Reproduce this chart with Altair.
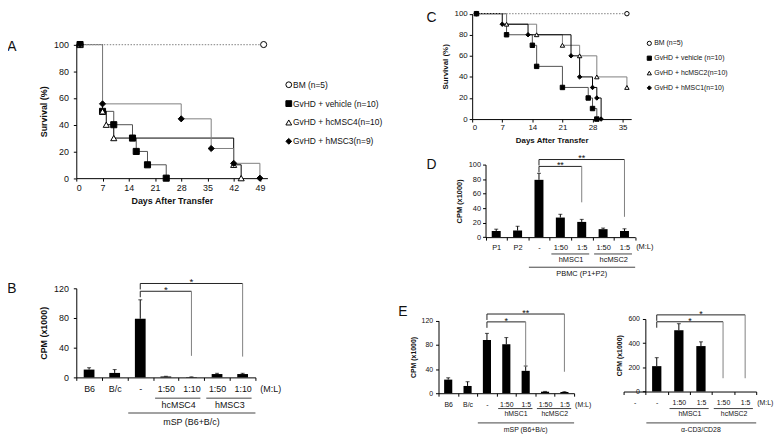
import json
import altair as alt
import pandas as pd

FONT = "Liberation Sans"
W, H = 776, 428


def X(p):
    return p - 8


def Y(p):
    return p - 8


# ---------------- data ----------------
# Panel A: survival
A_names = ["BM (n=5)", "GvHD + vehicle (n=10)", "GvHD + hcMSC4(n=10)", "GvHD + hMSC3(n=9)"]
A_days = [[1, 50], [1, 7, 10, 15, 16, 19, 24], [1, 7, 8, 10, 42, 44], [1, 7, 28, 36, 42, 49]]
A_surv = [[100, 100], [100, 50, 40, 30, 20, 10, 0], [100, 50, 40, 30, 10, 0],
          [100, 55.6, 44.4, 22.2, 11.1, 0]]
A_ticks = [0, 7, 14, 21, 28, 35, 42, 49]

# Panel C: survival
C_names = ["BM (n=5)", "GvHD + vehicle (n=10)", "GvHD + hcMSC2(n=10)", "GvHD + hMSC1(n=10)"]
C_days = [[1, 36], [1, 8, 14, 15, 21, 27, 28, 29], [1, 8, 15, 21, 25, 29, 36],
          [1, 7, 13, 23, 25, 28, 29, 30]]
C_surv = [[100, 100], [100, 80, 70, 50, 30, 20, 10, 0], [100, 90, 80, 70, 60, 40, 30],
          [100, 90, 80, 60, 40, 30, 20, 0]]
C_ticks = [0, 7, 14, 21, 28, 35]
SURV_TICKS = [0, 20, 40, 60, 80, 100]

# Panel B
B_labels = ["B6", "B/c", "-", "1:50", "1:10", "1:50", "1:10"]
B_cpm = [10.5, 6, 79, 1.2, 0.5, 4.5, 4.5]
B_err = [2.5, 4.5, 25.5, 0.3, 0.2, 1, 1]
B_groups = ["hcMSC4", "hMSC3"]
B_group_start = [3, 5]
B_group_end = [4, 6]
B_all = "mSP (B6+B/c)"
B_all_span = [2, 6]
B_br_left = [2, 2]
B_br_right = [4, 6]
B_br_top = [116, 126.5]
B_br_bottom = [29, 28]
B_br_star = ["*", "*"]
B_yticks = [0, 40, 80, 120]

# Panel D
D_labels = ["P1", "P2", "-", "1:50", "1:5", "1:50", "1:5"]
D_cpm = [8.5, 9, 79, 27, 21, 11, 8.5]
D_err = [2.5, 6, 9, 4.5, 3.5, 1.5, 3]
D_groups = ["hMSC1", "hcMSC2"]
D_group_start = [3, 5]
D_group_end = [4, 6]
D_all = "PBMC (P1+P2)"
D_all_span = [2, 6]
D_br_left = [2, 2]
D_br_right = [4, 6]
D_br_top = [97.5, 107]
D_br_bottom = [48, 28]
D_br_star = ["**", "**"]
D_yticks = [0, 20, 40, 60, 80, 100]

# Panel E (left)
E1_labels = ["B6", "B/c", "-", "1:50", "1:5", "1:50", "1:5"]
E1_cpm = [22.5, 12, 88, 81, 37, 2.5, 2]
E1_err = [3, 7, 11, 11, 8, 0.5, 0.5]
E1_groups = ["hMSC1", "hcMSC2"]
E1_group_start = [3, 5]
E1_group_end = [4, 6]
E1_all = "mSP (B6+B/c)"
E1_all_span = [2, 6]
E1_br_left = [2, 2]
E1_br_right = [4, 6]
E1_br_top = [118, 131]
E1_br_bottom = [43.5, 35.5]
E1_br_star = ["*", "**"]
E1_yticks = [0, 40, 80, 120]

# Panel E (right)
E2_labels = ["-", "-", "1:50", "1:5", "1:50", "1:5"]
E2_cpm = [0, 210, 507, 376, 0, 0]
E2_err = [0, 70, 54, 35, 0, 0]
E2_groups = ["hMSC1", "hcMSC2"]
E2_group_start = [2, 4]
E2_group_end = [3, 5]
E2_all = "\u03b1-CD3/CD28"
E2_all_span = [1, 5]
E2_br_left = [1, 1]
E2_br_right = [4, 5]
E2_br_top = [577, 634]
E2_br_bottom = [110, 110]
E2_br_star = ["*", "*"]
E2_yticks = [0, 200, 400, 600]

# ---------------- styles ----------------
SHAPES = ["circle", "square", "triangle-up", "diamond"]
FILLS = ["white", "black", "white", "black"]
TXT = "#111111"


def axis_common(fs, title_fs):
    return dict(grid=False, domainColor="black", tickColor="black", labelColor=TXT,
                titleColor=TXT, labelFont=FONT, titleFont=FONT, labelFontSize=fs,
                titleFontSize=title_fs, titleFontWeight="bold", tickSize=3,
                domainWidth=1, tickWidth=1)


def survival_panel(names, days, surv, xmax, xticks, x0, x1, y0, y1, fs, tfs, ypad,
                   line_colors, msize, leg):
    rows = []
    for n, ds, vs in zip(names, days, surv):
        for d, v in zip(ds, vs):
            rows.append({"series": n, "day": d, "surv": v})
    df = pd.DataFrame(rows)
    xs = alt.Scale(domain=[0, xmax], range=[X(x0), X(x1)], nice=False, zero=False)
    ys = alt.Scale(domain=[0, 100], range=[Y(y0), Y(y1)], nice=False)
    shp = alt.Scale(domain=names, range=SHAPES)
    fil = alt.Scale(domain=names, range=FILLS)
    xaxis = alt.Axis(orient="bottom", offset=Y(y0) - H, values=xticks,
                     title="Days After Transfer", labelPadding=2, titlePadding=5,
                     **axis_common(fs, tfs))
    yaxis = alt.Axis(orient="left", offset=-X(x0), values=SURV_TICKS, title="Survival (%)",
                     labelPadding=ypad, titlePadding=5, **axis_common(fs, tfs))
    layers = []
    first = True
    for k in [1, 2, 3, 0]:
        sub = df[df.series == names[k]]
        if k == 0:
            mk = alt.Chart(sub).mark_line(interpolate="step-after", color="#9a9a9a",
                                          strokeDash=[1.5, 1.5], strokeWidth=1.2)
        else:
            mk = alt.Chart(sub).mark_line(interpolate="step-after", color=line_colors[k],
                                          strokeWidth=1)
        layers.append(mk.encode(
            x=alt.X("day:Q", scale=xs, axis=xaxis if first else None),
            y=alt.Y("surv:Q", scale=ys, axis=yaxis if first else None)))
        first = False
    layers.append(alt.Chart(df).mark_point(filled=True, stroke="black", strokeWidth=1,
                                           size=msize, opacity=1).encode(
        x=alt.X("day:Q", scale=xs, axis=None),
        y=alt.Y("surv:Q", scale=ys, axis=None),
        shape=alt.Shape("series:N", scale=shp, legend=None),
        fill=alt.Fill("series:N", scale=fil, legend=None),
    ))
    # legend: rows placed by a point scale over the series names
    ldf = pd.DataFrame({"series": names})
    ly = alt.Scale(type="point", domain=names, range=[Y(leg["y0"]), Y(leg["y1"])],
                   padding=0)
    layers.append(alt.Chart(ldf).mark_point(filled=True, stroke="black", strokeWidth=1,
                                            size=leg["size"], opacity=1).encode(
        x=alt.value(X(leg["x"])),
        y=alt.Y("series:N", scale=ly, axis=None),
        shape=alt.Shape("series:N", scale=shp, legend=None),
        fill=alt.Fill("series:N", scale=fil, legend=None),
    ))
    layers.append(alt.Chart(ldf).mark_text(font=FONT, fontSize=leg["fs"], color=TXT,
                                           align="left", baseline="middle").encode(
        x=alt.value(X(leg["tx"])),
        y=alt.Y("series:N", scale=ly, axis=None),
        text="series:N",
    ))
    return layers


def bar_panel(labels, vals, errs, groups, gstart, gend, allname, allspan,
              brl, brr, brt, brb, brs, yticks, ymax,
              x0, x1, y0, y1, ax, fs, lpad, ypad, star_fs, ml_dx,
              gline_y, gtext_y, aline_y, atext_y):
    n = len(labels)
    df = pd.DataFrame({"i": list(range(n)), "v": vals, "e": errs})
    xs = alt.Scale(type="band", domain=list(range(n)), range=[X(x0), X(x1)],
                   paddingInner=0, paddingOuter=0)
    ys = alt.Scale(domain=[0, ymax], range=[Y(y0), Y(y1)], nice=False, zero=True)
    label_expr = json.dumps(labels) + "[datum.value]"
    xaxis = alt.Axis(orient="bottom", offset=Y(y0) - H, tickBand="extent",
                     labelExpr=label_expr, title=None, labelAngle=0, labelPadding=lpad,
                     **axis_common(fs, fs))
    yaxis = alt.Axis(orient="left", offset=-X(ax), values=yticks, title="CPM (x1000)",
                     labelPadding=ypad, titlePadding=5, **axis_common(fs, fs))

    def xenc(field, bp=0.5):
        return alt.X(field, scale=xs, axis=None, bandPosition=bp)

    def yenc(field):
        return alt.Y(field, scale=ys, axis=None)

    layers = []
    base = alt.Chart(df)
    layers.append(base.mark_bar(color="black", width={"band": 0.42}).encode(
        x=alt.X("i:O", scale=xs, axis=xaxis), y=alt.Y("v:Q", scale=ys, axis=yaxis)))
    eb = base.transform_filter("datum.e > 0").transform_calculate(hi="datum.v + datum.e")
    layers.append(eb.mark_rule(color="black", strokeWidth=1).encode(
        x=xenc("i:O"), y=yenc("v:Q"), y2=alt.Y2("hi:Q")))
    layers.append(eb.mark_tick(color="black", size=4, thickness=1).encode(
        x=xenc("i:O"), y=yenc("hi:Q")))

    # significance brackets
    br = pd.DataFrame({"l": brl, "r": brr, "t": brt, "b": brb, "s": brs})
    br["m"] = (br.l + br.r) // 2
    br["h"] = (br.l + br.r) % 2
    bc = alt.Chart(br)
    layers.append(bc.mark_rule(color="#222222", strokeWidth=1).encode(
        x=xenc("l:O"), x2=alt.X2("r:O", bandPosition=0.5), y=yenc("t:Q")))
    layers.append(bc.mark_rule(color="#222222", strokeWidth=1, y2Offset=6).encode(
        x=xenc("l:O"), y=yenc("t:Q"), y2=alt.Y2("t:Q")))
    layers.append(bc.mark_rule(color="#808080", strokeWidth=1).encode(
        x=xenc("r:O"), y=yenc("t:Q"), y2=alt.Y2("b:Q")))
    star = dict(font=FONT, fontSize=star_fs, color=TXT, baseline="alphabetic", dy=2,
                align="center")
    layers.append(bc.transform_filter("datum.h == 0").mark_text(**star).encode(
        x=xenc("m:O"), y=yenc("t:Q"), text="s:N"))
    layers.append(bc.transform_filter("datum.h == 1").mark_text(**star).encode(
        x=xenc("m:O", 1.0), y=yenc("t:Q"), text="s:N"))

    # group annotations under the axis
    for name, s, e in zip(groups, gstart, gend):
        g = alt.Chart(pd.DataFrame({"s": [s], "e": [e], "m": [s], "t": [name]}))
        layers.append(g.mark_rule(color="#444444", strokeWidth=1).encode(
            x=xenc("s:O", 0.08), x2=alt.X2("e:O", bandPosition=0.85), y=alt.value(Y(gline_y))))
        layers.append(g.mark_text(font=FONT, fontSize=fs, color=TXT, baseline="middle").encode(
            x=xenc("m:O", 1.0), y=alt.value(Y(gtext_y)), text="t:N"))
    s, e = allspan
    g = alt.Chart(pd.DataFrame({"s": [s], "e": [e], "m": [(s + e) // 2], "t": [allname]}))
    layers.append(g.mark_rule(color="#444444", strokeWidth=1).encode(
        x=xenc("s:O", 0.03), x2=alt.X2("e:O", bandPosition=1.0), y=alt.value(Y(aline_y))))
    layers.append(g.mark_text(font=FONT, fontSize=fs, color=TXT, baseline="middle").encode(
        x=xenc("m:O", 0.5), y=alt.value(Y(atext_y)), text="t:N"))
    # (M:L)
    ml = alt.Chart(pd.DataFrame({"i": [n - 1], "t": ["(M:L)"]}))
    layers.append(ml.mark_text(font=FONT, fontSize=fs, color=TXT, baseline="top",
                               align="left", dx=ml_dx).encode(
        x=xenc("i:O", 1.0), y=alt.value(Y(y0 + 3 + lpad)), text="t:N"))
    return layers


layers = []
layers += survival_panel(A_names, A_days, A_surv, 51, A_ticks, 77, 270.1, 177.7, 42.7, 9, 9, 5,
                         ["#9a9a9a", "#505050", "black", "#808080"], 38,
                         dict(x=291.7, tx=296, y0=83.3, y1=140.5, fs=8.5, size=34))
layers += survival_panel(C_names, C_days, C_surv, 37, C_ticks, 477, 637.7, 118, 11.5, 8, 8, 2,
                         ["#9a9a9a", "#505050", "#808080", "black"], 20,
                         dict(x=656, tx=661, y0=41.5, y1=86.5, fs=7, size=18))
layers += bar_panel(B_labels, B_cpm, B_err, B_groups, B_group_start, B_group_end, B_all,
                    B_all_span, B_br_left, B_br_right, B_br_top, B_br_bottom, B_br_star,
                    B_yticks, 120, 77, 258, 379, 289, 77, 9, 4.5, 5, 10, 5,
                    400, 407, 415, 424)
layers += bar_panel(D_labels, D_cpm, D_err, D_groups, D_group_start, D_group_end, D_all,
                    D_all_span, D_br_left, D_br_right, D_br_top, D_br_bottom, D_br_star,
                    D_yticks, 100, 490.5, 641.7, 237.3, 164, 490.5, 7.5, 3, 2, 9, 1,
                    254.3, 260.5, 267.7, 275)
layers += bar_panel(E1_labels, E1_cpm, E1_err, E1_groups, E1_group_start, E1_group_end, E1_all,
                    E1_all_span, E1_br_left, E1_br_right, E1_br_top, E1_br_bottom, E1_br_star,
                    E1_yticks, 120, 443, 580, 395, 321.7, 443, 7, 4.5, 3, 9, 1,
                    410.5, 416.5, 425, 432)
layers += bar_panel(E2_labels, E2_cpm, E2_err, E2_groups, E2_group_start, E2_group_end, E2_all,
                    E2_all_span, E2_br_left, E2_br_right, E2_br_top, E2_br_bottom, E2_br_star,
                    E2_yticks, 600, 630, 764, 393.3, 320, 652, 7, 4.5, 3, 9, 1,
                    410.5, 416.5, 425, 432)

for t, lx, ly in [("A", 12, 45), ("B", 12, 290), ("C", 436, 16), ("D", 436, 164), ("E", 407, 313)]:
    layers.append(alt.Chart(pd.DataFrame({"t": [t]})).mark_text(
        font=FONT, fontSize=14, color=TXT, baseline="middle", align="center").encode(
        x=alt.value(X(lx)), y=alt.value(Y(ly)), text="t:N"))

chart = alt.layer(*layers).resolve_scale(
    x="independent", y="independent", shape="independent", fill="independent"
).resolve_axis(x="independent", y="independent").properties(
    width=W, height=H, autosize=alt.AutoSizeParams(type="none"), padding=0
).configure(font=FONT).configure_view(stroke=None)

chart.save("out.html", embed_options={"renderer": "svg", "actions": False})
